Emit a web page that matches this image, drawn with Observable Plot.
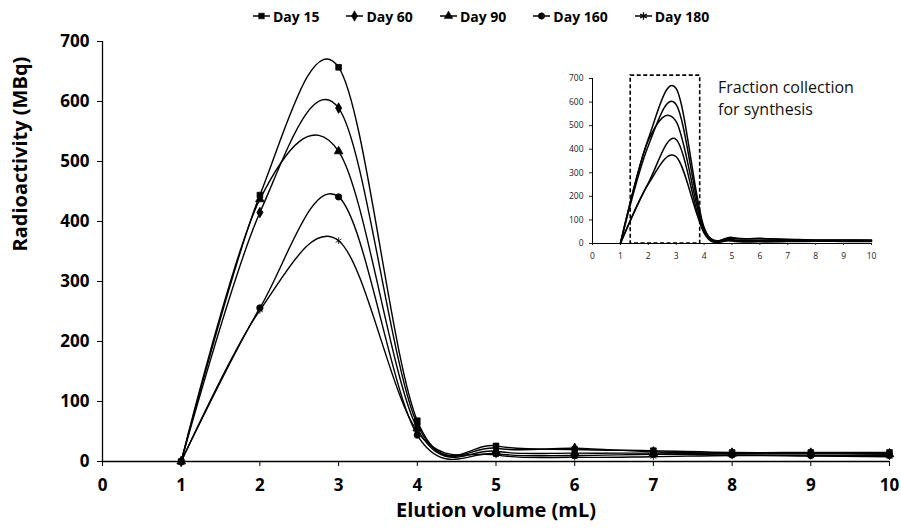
<!DOCTYPE html>
<html><head><meta charset="utf-8">
<script src="https://cdn.jsdelivr.net/npm/d3@7"></script>
<script src="https://cdn.jsdelivr.net/npm/@observablehq/plot@0.6"></script>
<style>
body{margin:0;background:#fff;font-family:"Open Sans",sans-serif;}
#wrap{position:relative;width:901px;height:529px;overflow:hidden;background:#fff}
#legend{height:30px;display:flex;align-items:center;padding-left:253px;padding-top:2px;box-sizing:border-box;gap:27px;font-weight:bold;font-size:14px;color:#000}
#legend .item{display:flex;align-items:center;gap:2px}
#main svg{display:block}
#inset{position:absolute;left:560px;top:65px}
#note{position:absolute;left:718px;top:76px;font-size:16px;line-height:22px;color:#111;font-family:"Open Sans",sans-serif}
</style></head><body>
<div id="wrap"><div id="legend"></div><div id="main"></div><div id="inset"></div><div id="note">Fraction collection<br>for synthesis</div></div>
<script>
const days = ["Day 15", "Day 60", "Day 90", "Day 160", "Day 180"];
const volumes = [1, 2, 3, 4, 5, 6, 7, 8, 9, 10];
const day15  = [0, 444, 657, 68, 26, 20, 18, 15, 15, 15];
const day60  = [0, 415, 589, 62, 22, 22, 16, 14, 14, 13];
const day90  = [0, 437, 517, 55, 17, 14, 14, 13, 13, 12];
const day160 = [0, 256, 441, 44, 13, 10, 12, 11, 10, 10];
const day180 = [0, 252, 368, 50, 11, 7, 8, 10, 9, 8];
const xTicks = [0, 1, 2, 3, 4, 5, 6, 7, 8, 9, 10];
const yTicks = [0, 100, 200, 300, 400, 500, 600, 700];
const collectionRange = [1.37, 3.86];
const xTitle = "Elution volume (mL)";
const yTitle = "Radioactivity (MBq)";
const noteText = "Fraction collection for synthesis";

const symbolNames = ["square", "diamond", "triangle", "circle", "asterisk"];
const d3Symbols = [d3.symbolSquare, d3.symbolDiamond, d3.symbolTriangle, d3.symbolCircle, d3.symbolAsterisk];
const seriesValues = [day15, day60, day90, day160, day180];
const table = [];
days.forEach((d, i) => volumes.forEach((v, j) => table.push({day: d, v, r: seriesValues[i][j]})));

// legend
const leg = d3.select("#legend");
days.forEach((d, i) => {
  const item = leg.append("div").attr("class", "item");
  const s = item.append("svg").attr("width", 18).attr("height", 12);
  s.append("line").attr("x1", 0).attr("x2", 17).attr("y1", 6).attr("y2", 6).attr("stroke", "#000").attr("stroke-width", 1.5);
  s.append("path").attr("transform", "translate(8.5,6)")
    .attr("d", d3.symbol(d3Symbols[i], i === 4 ? 40 : 32)())
    .attr("fill", i === 4 ? "none" : "#000").attr("stroke", "#000").attr("stroke-width", i === 4 ? 1.3 : 0.5);
  item.append("span").text(d);
});

const main = Plot.plot({
  width: 901, height: 499,
  marginLeft: 102, marginRight: 12, marginTop: 11, marginBottom: 68,
  x: {domain: [0, 10]},
  y: {domain: [0, 700]},
  symbol: {domain: days, range: symbolNames},
  style: {fontFamily: "Open Sans", fontWeight: "bold", fontSize: "17px", color: "#000", background: "#fff"},
  marks: [
    Plot.ruleX([0], {stroke: "#000", strokeWidth: 1.3}),
    Plot.ruleY([0], {stroke: "#000", strokeWidth: 1.3}),
    Plot.axisX({ticks: xTicks, tickSize: 5, tickPadding: 12, label: null, tickFormat: d => d}),
    Plot.axisY({ticks: yTicks, tickSize: 5, tickPadding: 8, label: null, tickFormat: d => d}),
    Plot.line(table, {x: "v", y: "r", z: "day", curve: "cardinal", tension: 0, stroke: "#000", strokeWidth: 1.4}),
    Plot.dot(table, {x: "v", y: "r", symbol: "day", fill: "#000", stroke: "#000", strokeWidth: 0.8, r: 3.2}),
    Plot.text([xTitle], {frameAnchor: "bottom", dy: 55, fontSize: 20, fontWeight: "bold", fill: "#000"}),
    Plot.text([yTitle], {frameAnchor: "left", rotate: -90, dx: -82, fontSize: 20, fontWeight: "bold", fill: "#000"})
  ]
});
document.getElementById("main").appendChild(main);

const inset = Plot.plot({
  width: 326, height: 198,
  marginLeft: 32, marginRight: 15, marginTop: 13, marginBottom: 20,
  x: {domain: [0, 10]},
  y: {domain: [0, 700]},
  style: {fontFamily: "Open Sans", fontSize: "8.5px", color: "#222", background: "transparent"},
  marks: [
    Plot.ruleX([0], {stroke: "#000", strokeWidth: 1}),
    Plot.ruleY([0], {stroke: "#000", strokeWidth: 1.2}),
    Plot.axisX({ticks: xTicks, tickSize: 2, tickPadding: 7, label: null, tickFormat: d => d}),
    Plot.axisY({ticks: yTicks, tickSize: 3, tickPadding: 6, label: null, tickFormat: d => d}),
    Plot.line(table, {x: "v", y: "r", z: "day", curve: "cardinal", tension: 0, stroke: "#000", strokeWidth: 1.5}),
    Plot.rect([collectionRange], {x1: d => d[0], x2: d => d[1], y1: 0, y2: 712, fill: "none", stroke: "#000", strokeWidth: 1.6, strokeDasharray: "4,2.5", clip: false})
  ]
});
document.getElementById("inset").appendChild(inset);
</script>
</body></html>
